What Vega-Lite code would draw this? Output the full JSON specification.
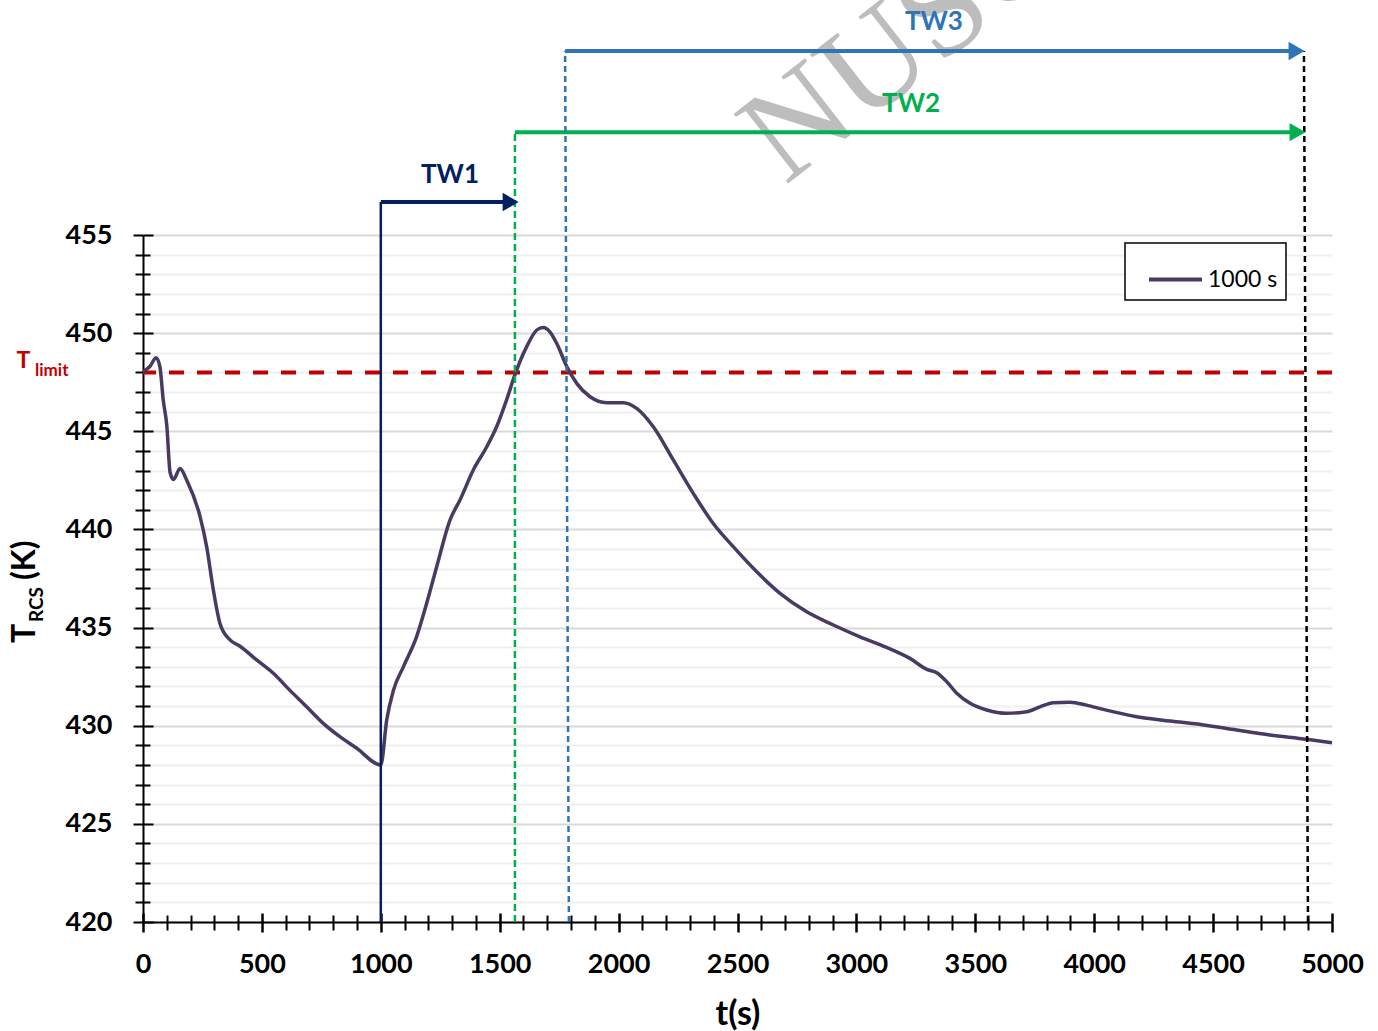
{
  "$schema": "https://vega.github.io/schema/vega-lite/v6.json",
  "width": 1189,
  "height": 687,
  "autosize": {"type": "none"},
  "padding": {"left": 143, "top": 235, "right": 46, "bottom": 109},
  "background": "white",
  "config": {
    "view": {"stroke": null},
    "legend": {"strokeWidth": 1.5},
    "font": "Lato"
  },
  "datasets": {
    "curve": [
      {"t": 0, "T": 448.05, "series": "1000 s"},
      {"t": 29, "T": 448.3, "series": "1000 s"},
      {"t": 55, "T": 448.75, "series": "1000 s"},
      {"t": 71, "T": 448.3, "series": "1000 s"},
      {"t": 85, "T": 446.6, "series": "1000 s"},
      {"t": 100, "T": 445.3, "series": "1000 s"},
      {"t": 114, "T": 442.9, "series": "1000 s"},
      {"t": 128, "T": 442.55, "series": "1000 s"},
      {"t": 156, "T": 443.1, "series": "1000 s"},
      {"t": 184, "T": 442.5, "series": "1000 s"},
      {"t": 240, "T": 440.65, "series": "1000 s"},
      {"t": 268, "T": 439.1, "series": "1000 s"},
      {"t": 296, "T": 436.9, "series": "1000 s"},
      {"t": 324, "T": 435.2, "series": "1000 s"},
      {"t": 366, "T": 434.37, "series": "1000 s"},
      {"t": 408, "T": 434.05, "series": "1000 s"},
      {"t": 478, "T": 433.35, "series": "1000 s"},
      {"t": 548, "T": 432.67, "series": "1000 s"},
      {"t": 618, "T": 431.8, "series": "1000 s"},
      {"t": 688, "T": 430.97, "series": "1000 s"},
      {"t": 758, "T": 430.12, "series": "1000 s"},
      {"t": 828, "T": 429.44, "series": "1000 s"},
      {"t": 899, "T": 428.85, "series": "1000 s"},
      {"t": 1000, "T": 428.0, "series": "1000 s"},
      {"t": 1025, "T": 430.3, "series": "1000 s"},
      {"t": 1053, "T": 431.8, "series": "1000 s"},
      {"t": 1095, "T": 433.0, "series": "1000 s"},
      {"t": 1151, "T": 434.55, "series": "1000 s"},
      {"t": 1193, "T": 436.24, "series": "1000 s"},
      {"t": 1235, "T": 438.1, "series": "1000 s"},
      {"t": 1291, "T": 440.48, "series": "1000 s"},
      {"t": 1333, "T": 441.5, "series": "1000 s"},
      {"t": 1389, "T": 443.03, "series": "1000 s"},
      {"t": 1445, "T": 444.2, "series": "1000 s"},
      {"t": 1487, "T": 445.23, "series": "1000 s"},
      {"t": 1529, "T": 446.6, "series": "1000 s"},
      {"t": 1566, "T": 447.95, "series": "1000 s"},
      {"t": 1613, "T": 449.3, "series": "1000 s"},
      {"t": 1656, "T": 450.16, "series": "1000 s"},
      {"t": 1683, "T": 450.29, "series": "1000 s"},
      {"t": 1711, "T": 450.07, "series": "1000 s"},
      {"t": 1740, "T": 449.47, "series": "1000 s"},
      {"t": 1782, "T": 448.3, "series": "1000 s"},
      {"t": 1824, "T": 447.44, "series": "1000 s"},
      {"t": 1880, "T": 446.76, "series": "1000 s"},
      {"t": 1950, "T": 446.46, "series": "1000 s"},
      {"t": 2020, "T": 446.46, "series": "1000 s"},
      {"t": 2076, "T": 446.17, "series": "1000 s"},
      {"t": 2146, "T": 445.23, "series": "1000 s"},
      {"t": 2230, "T": 443.54, "series": "1000 s"},
      {"t": 2314, "T": 441.84, "series": "1000 s"},
      {"t": 2398, "T": 440.3, "series": "1000 s"},
      {"t": 2482, "T": 439.12, "series": "1000 s"},
      {"t": 2581, "T": 437.84, "series": "1000 s"},
      {"t": 2679, "T": 436.74, "series": "1000 s"},
      {"t": 2791, "T": 435.8, "series": "1000 s"},
      {"t": 2903, "T": 435.13, "series": "1000 s"},
      {"t": 3015, "T": 434.53, "series": "1000 s"},
      {"t": 3127, "T": 433.99, "series": "1000 s"},
      {"t": 3225, "T": 433.43, "series": "1000 s"},
      {"t": 3296, "T": 432.87, "series": "1000 s"},
      {"t": 3338, "T": 432.7, "series": "1000 s"},
      {"t": 3380, "T": 432.24, "series": "1000 s"},
      {"t": 3422, "T": 431.65, "series": "1000 s"},
      {"t": 3478, "T": 431.14, "series": "1000 s"},
      {"t": 3548, "T": 430.8, "series": "1000 s"},
      {"t": 3632, "T": 430.63, "series": "1000 s"},
      {"t": 3716, "T": 430.71, "series": "1000 s"},
      {"t": 3772, "T": 430.96, "series": "1000 s"},
      {"t": 3828, "T": 431.17, "series": "1000 s"},
      {"t": 3898, "T": 431.2, "series": "1000 s"},
      {"t": 3968, "T": 431.05, "series": "1000 s"},
      {"t": 4038, "T": 430.83, "series": "1000 s"},
      {"t": 4179, "T": 430.46, "series": "1000 s"},
      {"t": 4319, "T": 430.24, "series": "1000 s"},
      {"t": 4459, "T": 430.04, "series": "1000 s"},
      {"t": 4599, "T": 429.78, "series": "1000 s"},
      {"t": 4739, "T": 429.53, "series": "1000 s"},
      {"t": 4893, "T": 429.31, "series": "1000 s"},
      {"t": 5000, "T": 429.13, "series": "1000 s"}
    ],
    "segments": [
      {"id": "TW1_v", "t1": 1000, "T1": 420, "t2": 1000, "T2": 456.68},
      {"id": "TW1_h", "t1": 1000, "T1": 456.68, "t2": 1555, "T2": 456.68},
      {"id": "TW2_v", "t1": 1564, "T1": 420, "t2": 1564, "T2": 460.24},
      {"id": "TW2_h", "t1": 1564, "T1": 460.24, "t2": 4860, "T2": 460.24},
      {"id": "TW3_v", "t1": 1791, "T1": 420, "t2": 1775, "T2": 464.37},
      {"id": "TW3_h", "t1": 1775, "T1": 464.37, "t2": 4855, "T2": 464.37},
      {"id": "end_v", "t1": 4899, "T1": 420, "t2": 4882, "T2": 464.37}
    ],
    "arrows": [
      {"id": "TW1", "t": 1546, "T": 456.68},
      {"id": "TW2", "t": 4855, "T": 460.24},
      {"id": "TW3", "t": 4851, "T": 464.37}
    ],
    "labels": [
      {"id": "TW1", "label": "TW1", "t": 1291, "T": 458.05},
      {"id": "TW2", "label": "TW2", "t": 3230, "T": 461.67},
      {"id": "TW3", "label": "TW3", "t": 3326, "T": 465.85}
    ],
    "limit": [{"T": 448}],
    "notes": [
      {"id": "wm", "label": "NUSCALE", "t": 2700, "T": 457.5},
      {"id": "Tl", "label": "T", "t": -502.5, "T": 448.22},
      {"id": "limit", "label": "limit", "t": -454, "T": 447.81},
      {"id": "yT", "label": "T", "t": -454, "T": 434.21},
      {"id": "yRCS", "label": "RCS", "t": -420.5, "T": 435.28},
      {"id": "yK", "label": "(K)", "t": -454, "T": 437.42}
    ]
  },
  "resolve": {"axis": {"x": "independent", "y": "independent"}},
  "layer": [
    {
      "data": {"name": "notes"},
      "transform": [{"filter": "datum.id === 'wm'"}],
      "mark": {"type": "text", "font": "Liberation Serif", "fontSize": 135, "angle": -38, "align": "left", "baseline": "alphabetic", "color": "#BDBDBD"},
      "encoding": {
        "x": {"field": "t", "type": "quantitative", "scale": {"domain": [0, 5000], "nice": false, "zero": false}, "axis": null},
        "y": {"field": "T", "type": "quantitative", "scale": {"domain": [420, 455], "nice": false, "zero": false}, "axis": null},
        "text": {"field": "label"}
      }
    },
    {
      "data": {"name": "curve"},
      "mark": {"type": "point", "opacity": 0},
      "encoding": {
        "x": {"field": "t", "type": "quantitative", "scale": {"domain": [0, 5000], "nice": false, "zero": false},
          "axis": {"orient": "bottom", "values": [0,100,200,300,400,500,600,700,800,900,1000,1100,1200,1300,1400,1500,1600,1700,1800,1900,2000,2100,2200,2300,2400,2500,2600,2700,2800,2900,3000,3100,3200,3300,3400,3500,3600,3700,3800,3900,4000,4100,4200,4300,4400,4500,4600,4700,4800,4900,5000],
            "labels": false, "domain": false, "grid": false, "title": null, "ticks": true, "tickColor": "black",
            "tickSize": {"condition": {"test": "datum.value % 500 === 0", "value": 10}, "value": 8},
            "tickWidth": {"condition": {"test": "datum.value % 500 === 0", "value": 2.5}, "value": 2}}},
        "y": {"field": "T", "type": "quantitative", "scale": {"domain": [420, 455], "nice": false, "zero": false},
          "axis": {"orient": "left", "values": [420,421,422,423,424,425,426,427,428,429,430,431,432,433,434,435,436,437,438,439,440,441,442,443,444,445,446,447,448,449,450,451,452,453,454,455],
            "labels": false, "domain": false, "title": null, "grid": true,
            "gridColor": {"condition": {"test": "datum.value % 5 === 0", "value": "#D9D9D9"}, "value": "#F0F0F0"},
            "gridWidth": 2, "ticks": true, "tickColor": "black",
            "tickSize": {"condition": {"test": "datum.value % 5 === 0", "value": 10}, "value": 8},
            "tickWidth": 2}}
      }
    },
    {
      "data": {"name": "curve"},
      "mark": {"type": "point", "opacity": 0},
      "encoding": {
        "x": {"field": "t", "type": "quantitative", "scale": {"domain": [0, 5000], "nice": false, "zero": false},
          "axis": {"orient": "bottom", "values": [0,100,200,300,400,500,600,700,800,900,1000,1100,1200,1300,1400,1500,1600,1700,1800,1900,2000,2100,2200,2300,2400,2500,2600,2700,2800,2900,3000,3100,3200,3300,3400,3500,3600,3700,3800,3900,4000,4100,4200,4300,4400,4500,4600,4700,4800,4900,5000],
            "labels": false, "domain": false, "grid": false, "title": null, "ticks": true, "tickColor": "black",
            "tickSize": {"condition": {"test": "datum.value % 500 === 0", "value": -9}, "value": -7},
            "tickWidth": {"condition": {"test": "datum.value % 500 === 0", "value": 2.5}, "value": 2}}},
        "y": {"field": "T", "type": "quantitative", "scale": {"domain": [420, 455], "nice": false, "zero": false},
          "axis": {"orient": "left", "values": [420,421,422,423,424,425,426,427,428,429,430,431,432,433,434,435,436,437,438,439,440,441,442,443,444,445,446,447,448,449,450,451,452,453,454,455],
            "labels": false, "domain": false, "title": null, "grid": false, "ticks": true, "tickColor": "black",
            "tickSize": {"condition": {"test": "datum.value % 5 === 0", "value": -10}, "value": -7},
            "tickWidth": 2}}
      }
    },
    {
      "data": {"name": "limit"},
      "mark": {"type": "rule", "color": "#C00000", "strokeWidth": 4, "strokeDash": [15, 13]},
      "encoding": {
        "y": {"field": "T", "type": "quantitative", "scale": {"domain": [420, 455], "nice": false, "zero": false}, "axis": null}
      }
    },
    {
      "data": {"name": "curve"},
      "mark": {"type": "line", "interpolate": "monotone", "strokeWidth": 3.5},
      "encoding": {
        "x": {"field": "t", "type": "quantitative", "scale": {"domain": [0, 5000], "nice": false, "zero": false},
          "axis": {"orient": "bottom", "values": [0,500,1000,1500,2000,2500,3000,3500,4000,4500,5000], "format": "d", "ticks": false, "grid": false,
            "domain": true, "domainColor": "black", "domainWidth": 2,
            "labelFont": "Lato", "labelFontWeight": "bold", "labelFontSize": 27, "labelColor": "black", "labelPadding": 29,
            "labelFlush": false, "labelOverlap": false,
            "title": "t(s)", "titleFont": "Lato", "titleFontSize": 34, "titleFontWeight": "bold", "titleColor": "black", "titlePadding": 20}},
        "y": {"field": "T", "type": "quantitative", "scale": {"domain": [420, 455], "nice": false, "zero": false},
          "axis": {"orient": "left", "values": [420,425,430,435,440,445,450,455], "format": "d", "ticks": false, "grid": false,
            "domain": true, "domainColor": "black", "domainWidth": 2,
            "labelFont": "Lato", "labelFontWeight": "bold", "labelFontSize": 27, "labelColor": "black", "labelPadding": 31,
            "labelOverlap": false, "title": null}},
        "color": {"field": "series", "type": "nominal", "scale": {"domain": ["1000 s"], "range": ["#483A62"]},
          "legend": {"orient": "none", "legendX": 982, "legendY": 8, "title": null, "strokeColor": "black", "fillColor": "white",
            "padding": 8, "symbolType": "stroke", "symbolSize": 2809, "symbolStrokeWidth": 4, "symbolOffset": 14,
            "labelFont": "Lato", "labelFontSize": 23, "labelColor": "black", "labelOffset": 4}}
      }
    },
    {
      "data": {"name": "segments"},
      "transform": [{"filter": "datum.id === 'TW1_v'"}],
      "mark": {"type": "rule", "color": "#002060", "strokeWidth": 2.5},
      "encoding": {
        "x": {"field": "t1", "type": "quantitative", "scale": {"domain": [0, 5000], "nice": false, "zero": false}, "axis": null},
        "x2": {"field": "t2"},
        "y": {"field": "T1", "type": "quantitative", "scale": {"domain": [420, 455], "nice": false, "zero": false}, "axis": null},
        "y2": {"field": "T2"}
      }
    },
    {
      "data": {"name": "segments"},
      "transform": [{"filter": "datum.id === 'TW1_h'"}],
      "mark": {"type": "rule", "color": "#002060", "strokeWidth": 4},
      "encoding": {
        "x": {"field": "t1", "type": "quantitative", "scale": {"domain": [0, 5000], "nice": false, "zero": false}, "axis": null},
        "x2": {"field": "t2"},
        "y": {"field": "T1", "type": "quantitative", "scale": {"domain": [420, 455], "nice": false, "zero": false}, "axis": null},
        "y2": {"field": "T2"}
      }
    },
    {
      "data": {"name": "segments"},
      "transform": [{"filter": "datum.id === 'TW2_v'"}],
      "mark": {"type": "rule", "color": "#00B050", "strokeWidth": 2.5, "strokeDash": [7, 4]},
      "encoding": {
        "x": {"field": "t1", "type": "quantitative", "scale": {"domain": [0, 5000], "nice": false, "zero": false}, "axis": null},
        "x2": {"field": "t2"},
        "y": {"field": "T1", "type": "quantitative", "scale": {"domain": [420, 455], "nice": false, "zero": false}, "axis": null},
        "y2": {"field": "T2"}
      }
    },
    {
      "data": {"name": "segments"},
      "transform": [{"filter": "datum.id === 'TW2_h'"}],
      "mark": {"type": "rule", "color": "#00B050", "strokeWidth": 4},
      "encoding": {
        "x": {"field": "t1", "type": "quantitative", "scale": {"domain": [0, 5000], "nice": false, "zero": false}, "axis": null},
        "x2": {"field": "t2"},
        "y": {"field": "T1", "type": "quantitative", "scale": {"domain": [420, 455], "nice": false, "zero": false}, "axis": null},
        "y2": {"field": "T2"}
      }
    },
    {
      "data": {"name": "segments"},
      "transform": [{"filter": "datum.id === 'TW3_v'"}],
      "mark": {"type": "rule", "color": "#2E75B6", "strokeWidth": 2.5, "strokeDash": [6, 4]},
      "encoding": {
        "x": {"field": "t1", "type": "quantitative", "scale": {"domain": [0, 5000], "nice": false, "zero": false}, "axis": null},
        "x2": {"field": "t2"},
        "y": {"field": "T1", "type": "quantitative", "scale": {"domain": [420, 455], "nice": false, "zero": false}, "axis": null},
        "y2": {"field": "T2"}
      }
    },
    {
      "data": {"name": "segments"},
      "transform": [{"filter": "datum.id === 'TW3_h'"}],
      "mark": {"type": "rule", "color": "#2E75B6", "strokeWidth": 4},
      "encoding": {
        "x": {"field": "t1", "type": "quantitative", "scale": {"domain": [0, 5000], "nice": false, "zero": false}, "axis": null},
        "x2": {"field": "t2"},
        "y": {"field": "T1", "type": "quantitative", "scale": {"domain": [420, 455], "nice": false, "zero": false}, "axis": null},
        "y2": {"field": "T2"}
      }
    },
    {
      "data": {"name": "segments"},
      "transform": [{"filter": "datum.id === 'end_v'"}],
      "mark": {"type": "rule", "color": "black", "strokeWidth": 2.5, "strokeDash": [6, 4]},
      "encoding": {
        "x": {"field": "t1", "type": "quantitative", "scale": {"domain": [0, 5000], "nice": false, "zero": false}, "axis": null},
        "x2": {"field": "t2"},
        "y": {"field": "T1", "type": "quantitative", "scale": {"domain": [420, 455], "nice": false, "zero": false}, "axis": null},
        "y2": {"field": "T2"}
      }
    },
    {
      "data": {"name": "arrows"},
      "mark": {"type": "point", "shape": "triangle-right", "filled": true, "size": 340, "opacity": 1},
      "encoding": {
        "x": {"field": "t", "type": "quantitative", "scale": {"domain": [0, 5000], "nice": false, "zero": false}, "axis": null},
        "y": {"field": "T", "type": "quantitative", "scale": {"domain": [420, 455], "nice": false, "zero": false}, "axis": null},
        "fill": {"field": "id", "type": "nominal", "scale": {"domain": ["TW1", "TW2", "TW3"], "range": ["#002060", "#00B050", "#2E75B6"]}, "legend": null},
        "stroke": {"value": null}
      }
    },
    {
      "data": {"name": "labels"},
      "mark": {"type": "text", "font": "Lato", "fontWeight": "bold", "fontSize": 26, "align": "center", "baseline": "middle"},
      "encoding": {
        "x": {"field": "t", "type": "quantitative", "scale": {"domain": [0, 5000], "nice": false, "zero": false}, "axis": null},
        "y": {"field": "T", "type": "quantitative", "scale": {"domain": [420, 455], "nice": false, "zero": false}, "axis": null},
        "text": {"field": "label"},
        "fill": {"field": "id", "type": "nominal", "scale": {"domain": ["TW1", "TW2", "TW3"], "range": ["#002060", "#00B050", "#2E75B6"]}, "legend": null}
      }
    },
    {
      "data": {"name": "notes"},
      "transform": [{"filter": "datum.id === 'Tl'"}],
      "mark": {"type": "text", "font": "Lato", "fontWeight": "bold", "fontSize": 23, "align": "center", "baseline": "alphabetic", "color": "#C00000"},
      "encoding": {
        "x": {"field": "t", "type": "quantitative", "scale": {"domain": [0, 5000], "nice": false, "zero": false}, "axis": null},
        "y": {"field": "T", "type": "quantitative", "scale": {"domain": [420, 455], "nice": false, "zero": false}, "axis": null},
        "text": {"field": "label"}
      }
    },
    {
      "data": {"name": "notes"},
      "transform": [{"filter": "datum.id === 'limit'"}],
      "mark": {"type": "text", "font": "Lato", "fontWeight": "bold", "fontSize": 17, "align": "left", "baseline": "alphabetic", "color": "#C00000"},
      "encoding": {
        "x": {"field": "t", "type": "quantitative", "scale": {"domain": [0, 5000], "nice": false, "zero": false}, "axis": null},
        "y": {"field": "T", "type": "quantitative", "scale": {"domain": [420, 455], "nice": false, "zero": false}, "axis": null},
        "text": {"field": "label"}
      }
    },
    {
      "data": {"name": "notes"},
      "transform": [{"filter": "datum.id === 'yT' || datum.id === 'yK'"}],
      "mark": {"type": "text", "font": "Lato", "fontWeight": "bold", "fontSize": 32, "align": "left", "baseline": "alphabetic", "angle": 270, "color": "black"},
      "encoding": {
        "x": {"field": "t", "type": "quantitative", "scale": {"domain": [0, 5000], "nice": false, "zero": false}, "axis": null},
        "y": {"field": "T", "type": "quantitative", "scale": {"domain": [420, 455], "nice": false, "zero": false}, "axis": null},
        "text": {"field": "label"}
      }
    },
    {
      "data": {"name": "notes"},
      "transform": [{"filter": "datum.id === 'yRCS'"}],
      "mark": {"type": "text", "font": "Lato", "fontWeight": "bold", "fontSize": 19, "align": "left", "baseline": "alphabetic", "angle": 270, "color": "black"},
      "encoding": {
        "x": {"field": "t", "type": "quantitative", "scale": {"domain": [0, 5000], "nice": false, "zero": false}, "axis": null},
        "y": {"field": "T", "type": "quantitative", "scale": {"domain": [420, 455], "nice": false, "zero": false}, "axis": null},
        "text": {"field": "label"}
      }
    }
  ]
}
